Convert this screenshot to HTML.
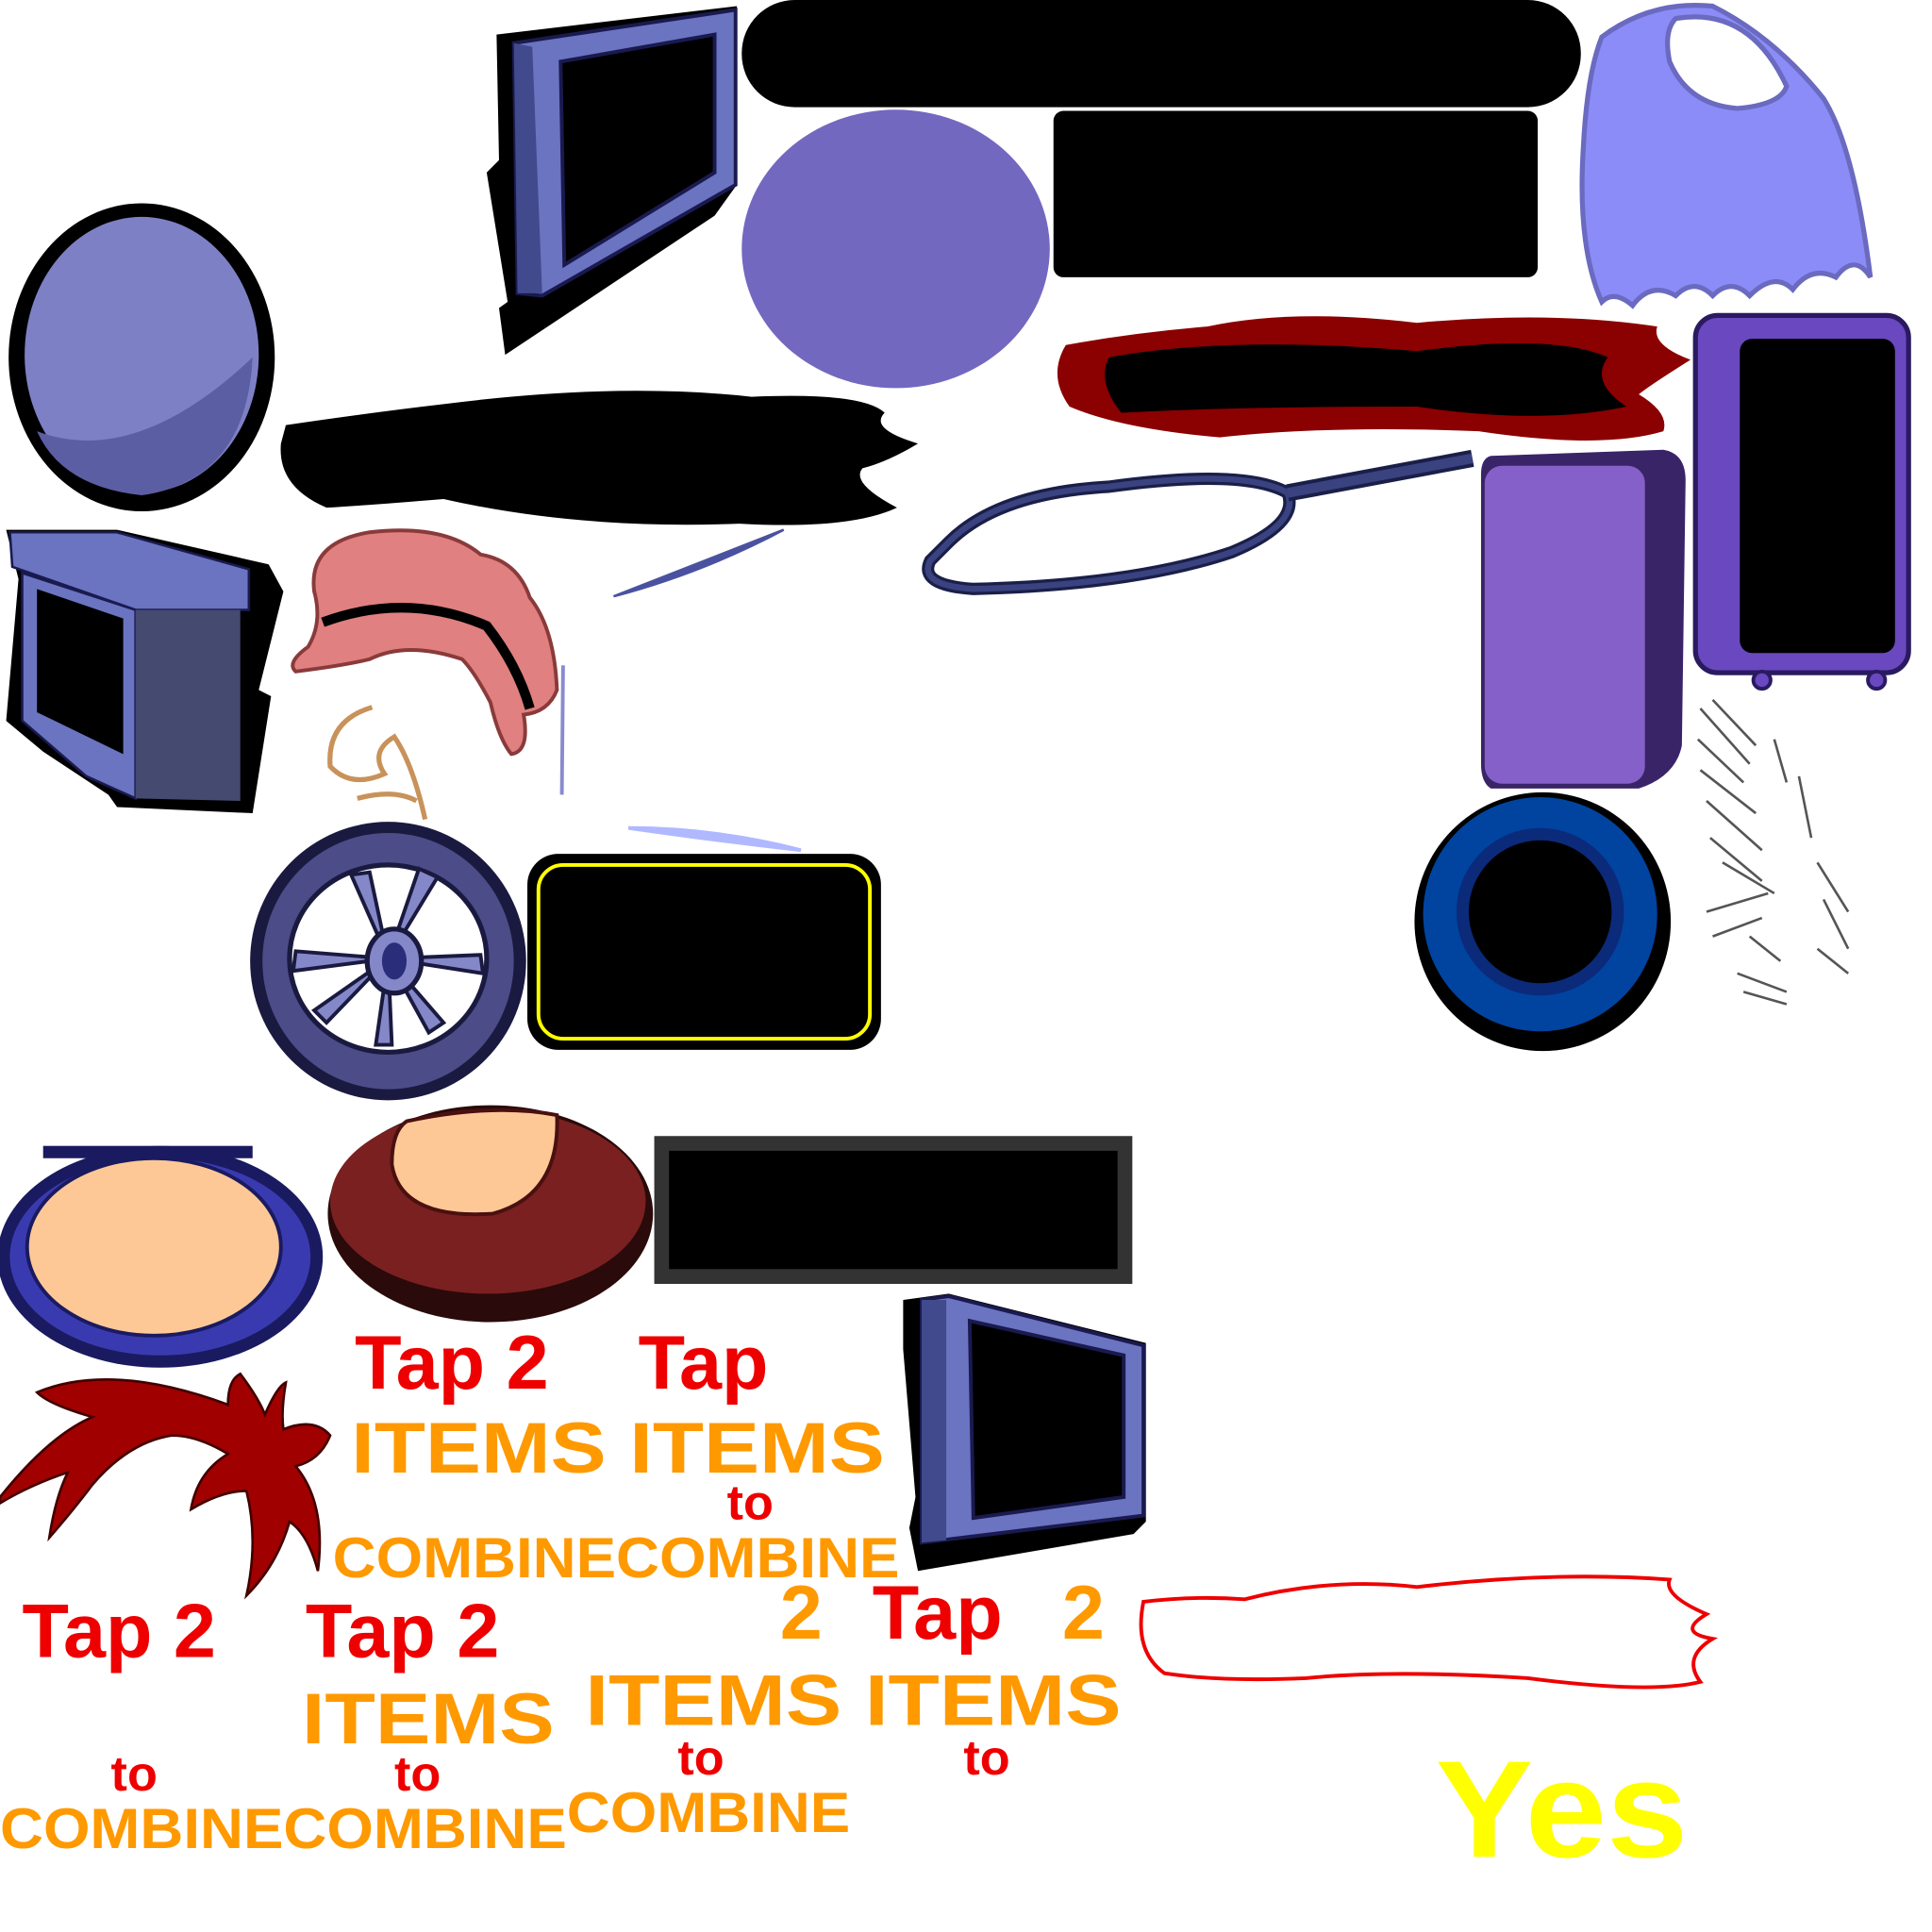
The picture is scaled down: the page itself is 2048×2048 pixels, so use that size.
<!DOCTYPE html>
<html><head><meta charset="utf-8"><style>
html,body{margin:0;padding:0;background:#fff;width:2048px;height:2048px;overflow:hidden}
svg{display:block}
text{font-family:"Liberation Sans",sans-serif;font-weight:bold}
</style></head><body>
<svg width="2048" height="2048" viewBox="0 0 1568 1568" xmlns="http://www.w3.org/2000/svg">
<polygon points="403,28 598,5 598,150 580,175 410,288 405,250 412,245 395,140 405,130" fill="#000"/>
<polygon points="417,35 597,8 597,150 440,240 420,238" fill="#6a74c0" stroke="#1a1a50" stroke-width="3"/>
<polygon points="417,35 432,38 440,238 420,238" fill="#414a8c"/>
<polygon points="455,50 580,28 580,140 458,215" fill="#000" stroke="#1a1a50" stroke-width="3"/>
<rect x="602" y="0" width="681" height="87" rx="43" fill="#000"/>
<ellipse cx="727" cy="202" rx="125" ry="113" fill="#7268c0"/>
<rect x="855" y="90" width="393" height="135" rx="8" fill="#000"/>
<path d="M1300,30 Q1340,0 1390,5 Q1440,30 1480,80 Q1505,120 1518,225 Q1505,205 1490,225 Q1470,215 1455,235 Q1440,220 1420,240 Q1405,225 1390,240 Q1375,225 1360,240 Q1340,228 1325,248 Q1310,235 1300,245 Q1280,200 1285,120 Q1288,60 1300,30Z" fill="#8c8cf8" stroke="#6a6ac0" stroke-width="4"/>
<path d="M1360,15 Q1420,5 1450,70 Q1445,85 1410,88 Q1370,85 1355,50 Q1350,25 1360,15Z" fill="#fff" stroke="#6a6ac0" stroke-width="4"/>
<ellipse cx="115" cy="290" rx="108" ry="125" fill="#000"/>
<ellipse cx="115" cy="288" rx="95" ry="112" fill="#7e80c6"/>
<path d="M30,350 Q110,380 205,290 Q200,390 115,402 Q50,395 30,350Z" fill="#5c5ea4"/>
<path d="M232,345 Q300,335 360,328 Q500,310 610,322 Q700,318 718,335 Q705,348 745,360 Q720,375 700,380 Q690,392 728,412 Q690,430 600,425 Q470,430 360,405 Q300,410 265,412 Q225,395 228,360Z" fill="#000"/>
<path d="M865,280 Q920,270 980,265 Q1050,250 1150,262 Q1260,252 1345,265 Q1340,280 1372,292 Q1340,312 1330,320 Q1355,335 1350,350 Q1300,365 1200,350 Q1080,345 990,355 Q910,348 868,330 Q850,305 865,280Z" fill="#8b0000"/>
<path d="M900,290 Q1000,272 1150,285 Q1260,270 1305,290 Q1290,310 1320,330 Q1250,345 1150,330 Q1000,330 910,335 Q890,310 900,290Z" fill="#000"/>
<rect x="1376" y="256" width="173" height="290" rx="18" fill="#6a48c0" stroke="#2a1a60" stroke-width="4"/>
<rect x="1412" y="275" width="126" height="255" rx="10" fill="#000"/>
<circle cx="1430" cy="552" r="7" fill="#6a48c0" stroke="#2a1a60" stroke-width="3"/>
<circle cx="1523" cy="552" r="7" fill="#6a48c0" stroke="#2a1a60" stroke-width="3"/>
<path d="M1210,370 L1350,365 Q1368,368 1368,390 L1365,605 Q1360,630 1330,640 L1210,640 Q1202,635 1202,620 L1202,385 Q1202,372 1210,370Z" fill="#3a2468"/>
<rect x="1205" y="378" width="130" height="258" rx="14" fill="#8560c8"/>
<path d="M770,440 Q810,400 900,395 Q1010,380 1045,400 Q1055,425 1000,448 Q920,475 790,478 Q745,475 755,455Z" fill="none" stroke="#1a1f48" stroke-width="10"/>
<path d="M770,440 Q810,400 900,395 Q1010,380 1045,400 Q1055,425 1000,448 Q920,475 790,478 Q745,475 755,455Z" fill="none" stroke="#3a4280" stroke-width="5"/>
<line x1="1045" y1="400" x2="1195" y2="372" stroke="#1a1f48" stroke-width="14"/>
<line x1="1045" y1="400" x2="1195" y2="372" stroke="#3a4280" stroke-width="8"/>
<polygon points="5,430 95,430 218,458 230,480 210,560 220,565 205,660 95,655 88,645 35,610 5,585 15,470" fill="#000"/>
<polygon points="8,432 95,432 202,462 202,495 110,495 10,460" fill="#6a74c0" stroke="#1a1a50" stroke-width="2"/>
<polygon points="18,465 110,495 110,648 70,630 18,585" fill="#6a74c0" stroke="#1a1a50" stroke-width="2"/>
<polygon points="30,478 100,502 100,612 30,578" fill="#000"/>
<polygon points="110,495 195,495 195,650 110,648" fill="#444a70"/>
<path d="M255,480 Q250,440 300,432 Q360,425 390,450 Q420,455 430,485 Q450,510 452,560 Q445,578 425,580 Q430,610 415,612 Q405,600 398,570 Q385,545 375,535 Q330,520 300,535 Q280,540 240,545 Q232,538 250,525 Q262,505 255,480Z" fill="#e08080" stroke="#8a3a3a" stroke-width="3"/>
<path d="M262,505 Q330,480 395,508 Q420,540 430,575" fill="none" stroke="#000" stroke-width="8"/>
<path d="M498,484 Q560,460 636,430 Q570,465 498,484Z" fill="#4a52a0" stroke="#4a52a0" stroke-width="2"/>
<line x1="457" y1="540" x2="456" y2="645" stroke="#8a8ad0" stroke-width="3"/>
<path d="M302,574 Q265,585 268,622 Q285,640 312,628 Q300,610 320,598 Q335,620 345,665 M290,648 Q320,640 338,650" fill="none" stroke="#c8925a" stroke-width="4"/>
<path d="M510,672 Q580,672 650,690 Q580,682 510,672Z" fill="#b0b8ff" stroke="#b0b8ff" stroke-width="3"/>
<ellipse cx="315" cy="780" rx="112" ry="113" fill="#1a1a40"/>
<ellipse cx="315" cy="780" rx="102" ry="104" fill="#4c4c88"/>
<ellipse cx="315" cy="778" rx="80" ry="76" fill="#fff" stroke="#1a1a40" stroke-width="4"/>
<g stroke="#1a1a40" stroke-width="3" fill="#8488c8">
<path d="M315,778 L285,710 L300,708Z"/><path d="M315,778 L355,712 L340,705Z"/><path d="M315,778 L392,790 L390,775Z"/><path d="M315,778 L240,772 L238,788Z"/><path d="M315,778 L255,820 L265,830Z"/><path d="M315,778 L360,830 L348,838Z"/><path d="M315,778 L305,848 L318,848Z"/>
</g>
<ellipse cx="320" cy="780" rx="22" ry="26" fill="#8488c8" stroke="#1a1a40" stroke-width="4"/>
<ellipse cx="320" cy="780" rx="10" ry="15" fill="#2a2e7a"/>
<rect x="428" y="693" width="287" height="159" rx="25" fill="#000"/>
<rect x="437" y="702" width="269" height="141" rx="20" fill="#000" stroke="#ffff00" stroke-width="3"/>
<ellipse cx="1252" cy="748" rx="104" ry="105" fill="#000"/>
<ellipse cx="1250" cy="742" rx="95" ry="95" fill="#0044a0"/>
<ellipse cx="1250" cy="740" rx="68" ry="68" fill="#0b2a7a"/>
<ellipse cx="1250" cy="740" rx="58" ry="58" fill="#000"/>
<g stroke="#555" stroke-width="2">
<line x1="1380" y1="575" x2="1420" y2="620"/><line x1="1390" y1="568" x2="1425" y2="605"/><line x1="1378" y1="600" x2="1415" y2="635"/>
<line x1="1380" y1="625" x2="1425" y2="660"/><line x1="1385" y1="650" x2="1430" y2="690"/><line x1="1388" y1="680" x2="1430" y2="715"/>
<line x1="1385" y1="740" x2="1435" y2="725"/><line x1="1390" y1="760" x2="1430" y2="745"/><line x1="1410" y1="790" x2="1450" y2="805"/>
<line x1="1415" y1="805" x2="1450" y2="815"/><line x1="1440" y1="600" x2="1450" y2="635"/><line x1="1460" y1="630" x2="1470" y2="680"/>
<line x1="1475" y1="700" x2="1500" y2="740"/><line x1="1480" y1="730" x2="1500" y2="770"/><line x1="1475" y1="770" x2="1500" y2="790"/>
<line x1="1420" y1="760" x2="1445" y2="780"/><line x1="1398" y1="700" x2="1440" y2="725"/>
</g>
<ellipse cx="130" cy="1020" rx="132" ry="90" fill="#1a1a60"/>
<ellipse cx="130" cy="1020" rx="122" ry="80" fill="#3a3ab0"/>
<ellipse cx="125" cy="1012" rx="103" ry="72" fill="#fdc896" stroke="#1a1a60" stroke-width="3"/>
<rect x="35" y="930" width="170" height="10" fill="#1a1a60"/>
<ellipse cx="398" cy="985" rx="132" ry="88" fill="#2a0a0a"/>
<ellipse cx="396" cy="975" rx="128" ry="75" fill="#7a2020"/>
<path d="M330,910 Q400,895 452,905 Q455,970 400,985 Q325,990 318,945 Q318,918 330,910Z" fill="#fdc896" stroke="#4a1010" stroke-width="3"/>
<rect x="531" y="922" width="388" height="120" fill="#333"/>
<rect x="543" y="934" width="364" height="96" fill="#000"/>
<polygon points="733,1055 770,1050 930,1090 930,1235 920,1245 745,1275 738,1240 743,1215 733,1095" fill="#000"/>
<polygon points="748,1055 770,1052 928,1092 928,1230 748,1252" fill="#6a74c0" stroke="#1a1a50" stroke-width="3"/>
<polygon points="748,1055 768,1055 768,1250 748,1252" fill="#414a8c"/>
<polygon points="787,1072 912,1100 912,1215 790,1232" fill="#000" stroke="#1a1a50" stroke-width="3"/>
<path d="M0,1215 Q40,1165 75,1150 Q40,1140 30,1130 Q90,1105 185,1140 Q185,1120 195,1115 Q210,1135 215,1148 Q225,1125 232,1122 Q228,1145 230,1160 Q255,1150 268,1165 Q260,1185 240,1190 Q265,1220 258,1275 Q250,1245 235,1235 Q225,1270 200,1295 Q210,1250 200,1210 Q180,1210 155,1225 Q160,1195 185,1180 Q160,1165 140,1165 Q105,1170 75,1205 Q60,1225 40,1248 Q45,1215 55,1195 Q25,1205 0,1220Z" fill="#a00000" stroke="#400000" stroke-width="2"/>
<path d="M928,1300 Q970,1295 1010,1298 Q1080,1280 1150,1288 Q1260,1275 1355,1282 Q1350,1295 1385,1310 Q1360,1325 1390,1330 Q1365,1345 1380,1365 Q1340,1375 1240,1362 Q1130,1355 1060,1362 Q990,1365 945,1358 Q920,1340 928,1300Z" fill="#fff" stroke="#ee0000" stroke-width="3"/>
<text x="288" y="1127" font-size="62" fill="#ee0000">Tap 2</text>
<text x="518" y="1127" font-size="62" fill="#ee0000">Tap</text>
<text x="285" y="1195" font-size="58" fill="#ff9900" textLength="433" lengthAdjust="spacingAndGlyphs">ITEMS ITEMS</text>
<text x="590" y="1233" font-size="40" fill="#ee0000">to</text>
<text x="270" y="1280" font-size="46" fill="#ff9900" textLength="460" lengthAdjust="spacingAndGlyphs">COMBINECOMBINE</text>
<text x="18" y="1345" font-size="62" fill="#ee0000">Tap 2</text>
<text x="248" y="1345" font-size="62" fill="#ee0000">Tap 2</text>
<text x="633" y="1330" font-size="62" fill="#ff9900">2</text>
<text x="708" y="1330" font-size="62" fill="#ee0000">Tap</text>
<text x="862" y="1330" font-size="62" fill="#ff9900">2</text>
<text x="245" y="1415" font-size="58" fill="#ff9900" textLength="205" lengthAdjust="spacingAndGlyphs">ITEMS</text>
<text x="475" y="1400" font-size="58" fill="#ff9900" textLength="435" lengthAdjust="spacingAndGlyphs">ITEMS ITEMS</text>
<text x="90" y="1453" font-size="40" fill="#ee0000">to</text>
<text x="320" y="1453" font-size="40" fill="#ee0000">to</text>
<text x="550" y="1440" font-size="40" fill="#ee0000">to</text>
<text x="782" y="1440" font-size="40" fill="#ee0000">to</text>
<text x="0" y="1500" font-size="46" fill="#ff9900" textLength="460" lengthAdjust="spacingAndGlyphs">COMBINECOMBINE</text>
<text x="460" y="1487" font-size="46" fill="#ff9900" textLength="230" lengthAdjust="spacingAndGlyphs">COMBINE</text>
<text x="1165" y="1507" font-size="112" fill="#ffff00" textLength="205" lengthAdjust="spacingAndGlyphs">Yes</text>
</svg>
</body></html>
